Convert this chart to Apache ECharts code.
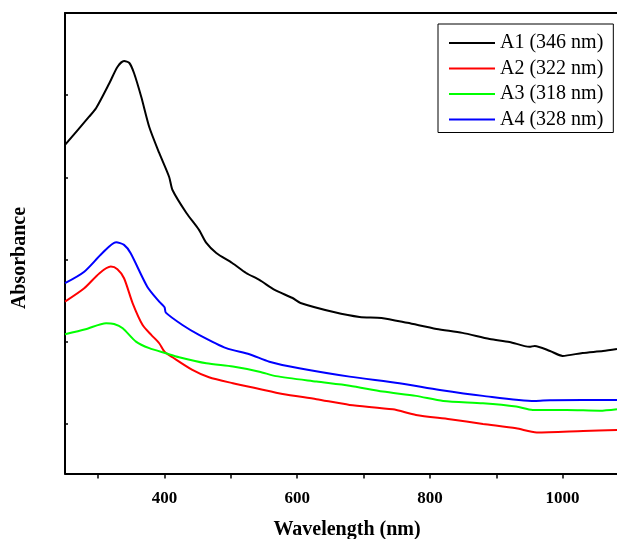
<!DOCTYPE html>
<html>
<head>
<meta charset="utf-8">
<script src="https://cdn.jsdelivr.net/npm/echarts@6/dist/echarts.min.js"></script>
<style>
html,body{margin:0;padding:0;background:#fff;}
#chart{width:617px;height:539px;}
</style>
</head>
<body>
<div id="chart"></div>
<script>
// Data (wavelength nm, absorbance a.u.)
const seriesNames = ['A1 (346 nm)', 'A2 (322 nm)', 'A3 (318 nm)', 'A4 (328 nm)'];
const seriesColors = ['#000000', '#ff0000', '#00ff00', '#0000ff'];

const a1X = [250,286,297,317,329,339,347,354,365,377,392,407,412,433,452,463,478,502,523,543,566,593,605,655,694,727,766,810,849,890,920,950,958,981,1000,1030,1061,1082];
const a1Y = [2.198,2.368,2.422,2.574,2.672,2.708,2.696,2.635,2.489,2.307,2.149,2.003,1.924,1.784,1.681,1.602,1.541,1.480,1.419,1.377,1.316,1.267,1.237,1.182,1.152,1.146,1.116,1.079,1.055,1.018,1.000,0.970,0.976,0.945,0.915,0.933,0.945,0.957];

const a2X = [250,279,302,319,329,339,352,367,380,392,400,412,442,467,503,543,578,629,679,744,779,830,880,930,961,1031,1082];
const a2Y = [1.245,1.326,1.418,1.458,1.442,1.387,1.235,1.103,1.043,0.992,0.940,0.907,0.830,0.785,0.749,0.714,0.684,0.652,0.617,0.590,0.556,0.530,0.501,0.475,0.450,0.459,0.465];

const a3X = [250,281,312,324,337,357,377,402,422,463,503,543,568,629,679,729,779,820,880,930,955,1006,1056,1082];
const a3Y = [1.047,1.077,1.114,1.109,1.083,1.002,0.962,0.931,0.907,0.870,0.850,0.819,0.792,0.759,0.734,0.698,0.672,0.641,0.627,0.607,0.586,0.586,0.582,0.591];

const a4X = [250,279,306,327,339,349,374,392,400,402,427,452,493,528,558,603,679,754,815,880,958,981,1030,1082];
const a4Y = [1.357,1.427,1.539,1.606,1.590,1.539,1.336,1.245,1.211,1.178,1.103,1.043,0.962,0.925,0.880,0.840,0.789,0.749,0.708,0.672,0.641,0.646,0.647,0.647];

const xTicks = [300,400,500,600,700,800,900,1000];
const xLabels = [400,600,800,1000];
const yTicks = [0.5,1.0,1.5,2.0,2.5];

const allX = [a1X, a2X, a3X, a4X];
const allY = [a1Y, a2Y, a3Y, a4Y];

const chart = echarts.init(document.getElementById('chart'), null, {renderer: 'canvas'});
const serif = 'Liberation Serif, Times New Roman, serif';

const series = seriesNames.map((name, i) => ({
  name: name,
  type: 'line',
  xAxisIndex: 0,
  yAxisIndex: 0,
  data: allX[i].map((x, j) => [x, allY[i][j]]),
  symbol: 'none',
  showSymbol: false,
  smooth: 0.25,
  clip: true,
  lineStyle: {color: seriesColors[i], width: 2},
  itemStyle: {color: seriesColors[i]},
  z: 3
}));

chart.setOption({
  animation: false,
  backgroundColor: '#fff',
  grid: {left: 65, right: 0, top: 13, bottom: 65.5, containLabel: false, outerBoundsMode: 'none'},
  legend: {
    show: true,
    orient: 'vertical',
    left: 438,
    top: 24,
    data: seriesNames.map(n => ({name: n, icon: 'rect'})),
    itemWidth: 46,
    itemHeight: 2,
    itemGap: 5.5,
    padding: [9, 10, 3, 11],
    borderColor: '#000',
    borderWidth: 1,
    backgroundColor: '#fff',
    textStyle: {fontFamily: serif, fontSize: 20, lineHeight: 20, color: '#000'}
  },
  xAxis: [{
    type: 'value',
    min: 250,
    max: 1082,
    position: 'bottom',
    name: 'Wavelength (nm)',
    nameLocation: 'middle',
    nameGap: 46,
    nameTextStyle: {fontFamily: serif, fontSize: 20, fontWeight: 'bold', color: '#000', padding: [0, 0, 0, 12]},
    axisLine: {show: true, onZero: false, lineStyle: {color: '#000', width: 2}},
    axisTick: {show: true, inside: false, length: 5, customValues: xTicks, lineStyle: {color: '#000', width: 1.5}},
    axisLabel: {show: true, margin: 17, customValues: xLabels, formatter: v => String(v), fontFamily: serif, fontSize: 17, fontWeight: 'bold', color: '#000'},
    splitLine: {show: false}
  }, {
    type: 'value',
    min: 250,
    max: 1082,
    position: 'top',
    axisLine: {show: true, onZero: false, lineStyle: {color: '#000', width: 2}},
    axisTick: {show: false},
    axisLabel: {show: false},
    splitLine: {show: false}
  }],
  yAxis: [{
    type: 'value',
    min: 0.2,
    max: 3.0,
    position: 'left',
    axisLine: {show: true, onZero: false, lineStyle: {color: '#000', width: 2}},
    axisTick: {show: true, inside: true, length: 3, customValues: yTicks, lineStyle: {color: '#000', width: 1.5}},
    axisLabel: {show: false},
    splitLine: {show: false}
  }],
  graphic: [{
    type: 'text',
    x: 20,
    y: 258,
    rotation: Math.PI / 2,
    style: {
      text: 'Absorbance',
      fill: '#000',
      font: 'bold 20px "Liberation Serif", "Times New Roman", serif',
      textAlign: 'center',
      textVerticalAlign: 'middle'
    }
  }],
  series: series
});
</script>
</body>
</html>
